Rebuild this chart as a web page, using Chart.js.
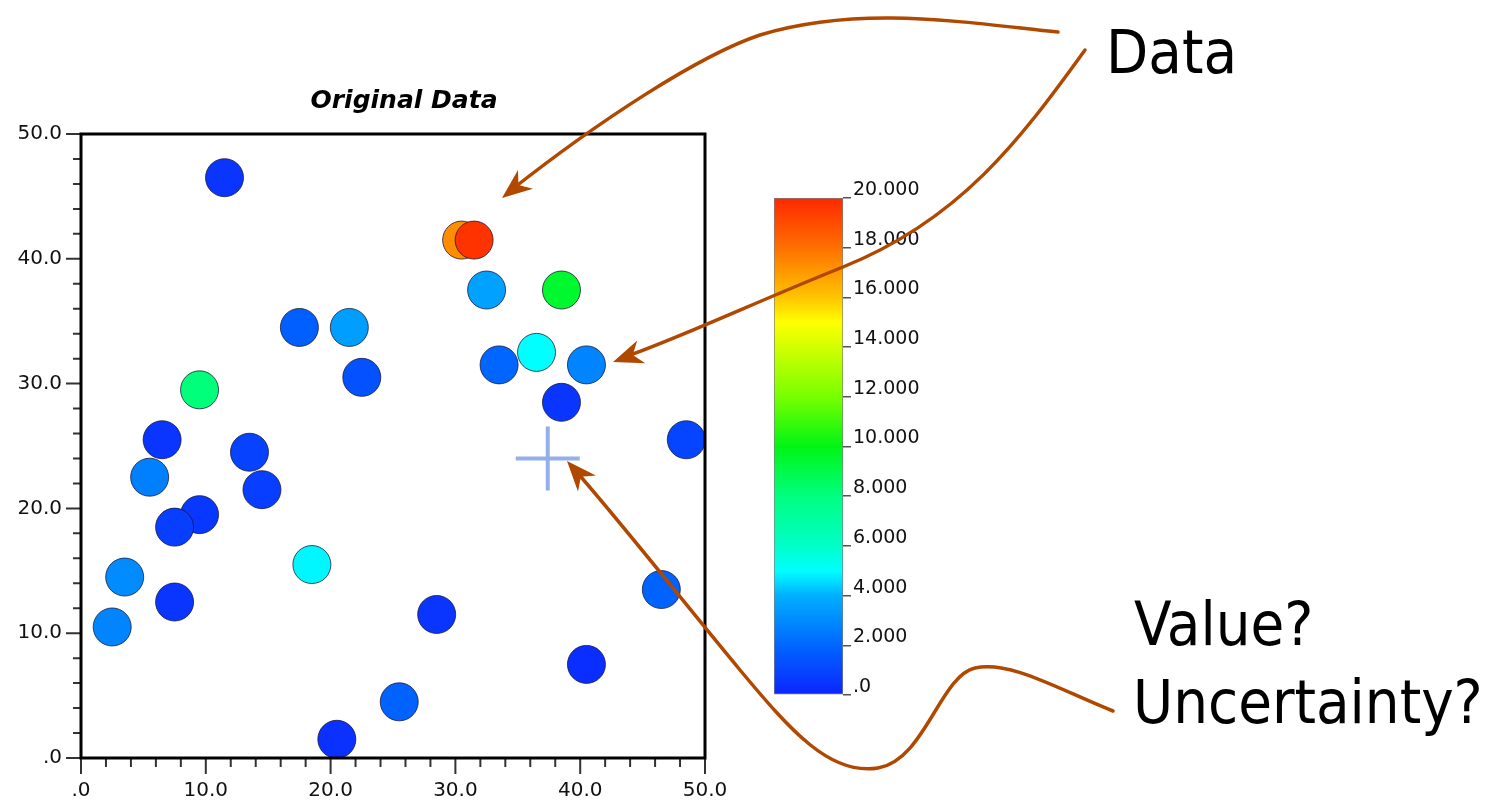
<!DOCTYPE html>
<html>
<head>
<meta charset="utf-8">
<title>Original Data</title>
<script src="https://cdn.jsdelivr.net/npm/chart.js@4.4.1/dist/chart.umd.min.js"></script>
<style>
  html, body { margin: 0; padding: 0; background: #fff; }
  body { width: 1507px; height: 801px; position: relative; overflow: hidden; }
  #main { position: absolute; left: 0; top: 0; z-index: 2; }
  #bar { position: absolute; left: 774px; top: 170px; z-index: 1; }
  .note {
    position: absolute; z-index: 3; color: #000; white-space: nowrap;
    font-family: "DejaVu Sans Condensed", "DejaVu Sans", sans-serif;
    font-stretch: 87.5%; font-size: 61px; line-height: 61px;
  }
</style>
</head>
<body>
<canvas id="main" width="1507" height="801"></canvas>
<canvas id="bar" width="180" height="560"></canvas>
<div class="note" style="left:1106px;top:21px">Data</div>
<div class="note" style="left:1134px;top:593px">Value?</div>
<div class="note" style="left:1133px;top:671px">Uncertainty?</div>
<script>
// sample locations and values
const sampleX = [11.5, 30.5, 31.5, 32.5, 38.5, 17.5, 21.5, 22.5, 36.5, 33.5,
                 40.5, 38.5, 9.5, 48.5, 6.5, 13.5, 5.5, 14.5, 9.5, 7.5,
                 18.5, 3.5, 7.5, 46.5, 2.5, 28.5, 40.5, 25.5, 20.5];
const sampleY = [46.5, 41.5, 41.5, 37.5, 37.5, 34.5, 34.5, 30.5, 32.5, 31.5,
                 31.5, 28.5, 29.5, 25.5, 25.5, 24.5, 22.5, 21.5, 19.5, 18.5,
                 15.5, 14.5, 12.5, 13.5, 10.5, 11.5, 7.5, 4.5, 1.5];
const sampleValue = [0.5, 17.3, 19.7, 3.6, 9.5, 1.8, 3.5, 1.4, 5.0, 2.0,
                     2.8, 0.5, 8.1, 1.0, 0.5, 0.9, 2.7, 0.8, 0.6, 0.8,
                     4.9, 3.0, 0.5, 1.9, 2.8, 0.5, 0.3, 1.9, 0.4];

// unknown location (the blue cross)
const probeX = [37.4];
const probeY = [24.0];

// colour scale
const scaleMin = 0;
const scaleMax = 20;
const colorStops = [0, 2, 4, 5, 6, 8, 10, 12, 14, 15, 16, 18, 20];
const colorRGB = [
  [12, 36, 255], [0, 102, 255], [0, 176, 255], [0, 255, 255], [0, 255, 200],
  [0, 255, 128], [0, 245, 20], [120, 255, 0], [210, 255, 0], [255, 255, 0],
  [255, 196, 0], [255, 112, 0], [255, 40, 0]
];

function valueColor(v) {
  let i = 0;
  while (i < colorStops.length - 2 && v > colorStops[i + 1]) i++;
  const t = Math.min(1, Math.max(0, (v - colorStops[i]) / (colorStops[i + 1] - colorStops[i])));
  const a = colorRGB[i], b = colorRGB[i + 1];
  const c = a.map((ch, k) => Math.round(ch + (b[k] - ch) * t));
  return `rgb(${c[0]},${c[1]},${c[2]})`;
}

function axisLabel(v) {
  if (v % 10 !== 0) return '';
  return v === 0 ? '.0' : v.toFixed(1);
}

const tickFont = { family: 'DejaVu Sans', size: 20 };

// frame around the plot and major/minor tick marks
const framePlugin = {
  id: 'frame',
  afterDatasetsDraw(chart) {
    const { ctx, chartArea: a, scales } = chart;
    ctx.save();
    ctx.strokeStyle = '#333';
    ctx.lineWidth = 2;
    ctx.beginPath();
    scales.x.ticks.forEach((t) => {
      const px = scales.x.getPixelForValue(t.value);
      const len = t.value % 10 === 0 ? 16 : 9;
      ctx.moveTo(px, a.bottom);
      ctx.lineTo(px, a.bottom + len);
    });
    scales.y.ticks.forEach((t) => {
      const py = scales.y.getPixelForValue(t.value);
      const len = t.value % 10 === 0 ? 15 : 8;
      ctx.moveTo(a.left, py);
      ctx.lineTo(a.left - len, py);
    });
    ctx.stroke();
    ctx.strokeStyle = '#000';
    ctx.lineWidth = 3;
    ctx.strokeRect(a.left, a.top, a.right - a.left, a.bottom - a.top);
    ctx.restore();
  }
};

// brown callout curves
function arrowHead(ctx, tx, ty, fromX, fromY) {
  const ang = Math.atan2(ty - fromY, tx - fromX);
  const L = 30, W = 12, N = 9;
  const cos = Math.cos(ang), sin = Math.sin(ang);
  ctx.beginPath();
  ctx.moveTo(tx, ty);
  ctx.lineTo(tx - L * cos - W * sin, ty - L * sin + W * cos);
  ctx.lineTo(tx - (L - N) * cos, ty - (L - N) * sin);
  ctx.lineTo(tx - L * cos + W * sin, ty - L * sin - W * cos);
  ctx.closePath();
  ctx.fill();
}

const calloutPlugin = {
  id: 'callouts',
  afterDraw(chart) {
    const ctx = chart.ctx;
    ctx.save();
    ctx.strokeStyle = '#b04800';
    ctx.fillStyle = '#b04800';
    ctx.lineWidth = 3.5;
    ctx.lineCap = 'round';

    // Data -> orange/red pair
    ctx.beginPath();
    ctx.moveTo(1058, 32);
    ctx.bezierCurveTo(960, 22, 860, 5, 760, 35);
    ctx.bezierCurveTo(700, 55, 600, 120, 510, 191);
    ctx.stroke();
    arrowHead(ctx, 502, 198, 600, 120);

    // Data -> point at right
    ctx.beginPath();
    ctx.moveTo(1085, 50);
    ctx.bezierCurveTo(1020, 140, 960, 220, 843, 267);
    ctx.bezierCurveTo(760, 300, 680, 338, 622, 358);
    ctx.stroke();
    arrowHead(ctx, 613, 362, 680, 338);

    // Value? Uncertainty? -> cross
    ctx.beginPath();
    ctx.moveTo(1113, 711);
    ctx.bezierCurveTo(1060, 690, 1010, 660, 975, 668);
    ctx.bezierCurveTo(940, 676, 925, 760, 878, 768);
    ctx.bezierCurveTo(830, 776, 790, 730, 740, 670);
    ctx.bezierCurveTo(690, 610, 615, 515, 574, 469);
    ctx.stroke();
    arrowHead(ctx, 567, 461, 615, 515);
    ctx.restore();
  }
};

new Chart(document.getElementById('main'), {
  type: 'scatter',
  data: {
    datasets: [
      {
        data: sampleX.map((x, i) => ({ x, y: sampleY[i] })),
        backgroundColor: sampleValue.map(valueColor),
        borderColor: 'rgba(20,20,50,0.75)',
        borderWidth: 1,
        pointRadius: 19,
        pointHoverRadius: 19
      },
      {
        data: probeX.map((x, i) => ({ x, y: probeY[i] })),
        pointStyle: 'cross',
        pointRadius: 32,
        pointHoverRadius: 32,
        borderColor: '#93b0ec',
        borderWidth: 4
      }
    ]
  },
  options: {
    responsive: false,
    animation: false,
    devicePixelRatio: 1,
    layout: { padding: { left: 0, right: 699, top: 0, bottom: 0 } },
    plugins: {
      legend: { display: false },
      tooltip: { enabled: false },
      title: {
        display: true,
        text: 'Original Data',
        color: '#000',
        font: { family: 'DejaVu Sans', size: 25, weight: 'bold', style: 'italic' },
        padding: { top: 86, bottom: 18 }
      }
    },
    scales: {
      x: {
        type: 'linear', min: 0, max: 50,
        afterFit: (s) => { s.height = 43; },
        ticks: { stepSize: 2, autoSkip: false, maxRotation: 0, padding: 21,
                 callback: axisLabel, font: tickFont, color: '#111' },
        grid: { drawOnChartArea: false, drawTicks: false },
        border: { display: false }
      },
      y: {
        type: 'linear', min: 0, max: 50,
        afterFit: (s) => { s.width = 81; },
        ticks: { stepSize: 2, autoSkip: false, padding: 19,
                 callback: axisLabel, font: tickFont, color: '#111' },
        grid: { drawOnChartArea: false, drawTicks: false },
        border: { display: false }
      },
      pad: {
        type: 'linear', position: 'right',
        afterFit: (s) => { s.width = 103; },
        ticks: { display: false },
        grid: { display: false },
        border: { display: false }
      }
    }
  },
  plugins: [framePlugin, calloutPlugin]
});

// colour bar
function barGradient(context) {
  const chart = context.chart;
  const a = chart.chartArea;
  if (!a) return colorRGB[0];
  const g = chart.ctx.createLinearGradient(0, a.bottom, 0, a.top);
  colorStops.forEach((v, i) => {
    const c = colorRGB[i];
    g.addColorStop((v - scaleMin) / (scaleMax - scaleMin), `rgb(${c[0]},${c[1]},${c[2]})`);
  });
  return g;
}

new Chart(document.getElementById('bar'), {
  type: 'bar',
  data: {
    labels: ['scale'],
    datasets: [{
      data: [[scaleMin, scaleMax]],
      backgroundColor: barGradient,
      borderColor: 'rgba(70,70,70,0.7)',
      borderWidth: 1,
      borderSkipped: false,
      barPercentage: 1,
      categoryPercentage: 1
    }]
  },
  options: {
    responsive: false,
    animation: false,
    devicePixelRatio: 1,
    layout: { padding: { top: 28, bottom: 35, left: 0, right: 0 } },
    plugins: { legend: { display: false }, tooltip: { enabled: false } },
    scales: {
      x: { display: false },
      y: {
        position: 'right', min: scaleMin, max: scaleMax,
        afterFit: (s) => { s.width = 111; },
        ticks: { stepSize: 2, padding: 2, labelOffset: -8,
                 callback: (v) => (v === 0 ? '.0' : v.toFixed(3)),
                 font: { family: 'DejaVu Sans', size: 19 }, color: '#111' },
        grid: { drawOnChartArea: false, tickLength: 8, color: '#555', lineWidth: 1.5 },
        border: { display: false }
      }
    }
  }
});
</script>
</body>
</html>
